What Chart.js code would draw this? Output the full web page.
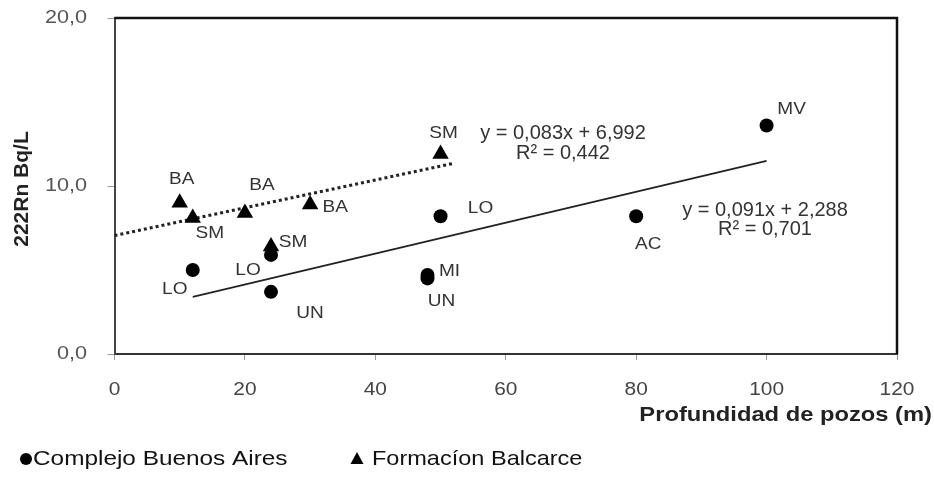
<!DOCTYPE html>
<html>
<head>
<meta charset="utf-8">
<script src="https://cdn.jsdelivr.net/npm/chart.js@4"></script>
<style>
  html, body { margin: 0; padding: 0; background: #fff; }
  #wrap { width: 934px; height: 479px; }
</style>
</head>
<body>
<div id="wrap"><canvas id="graf" width="934" height="479"></canvas></div>
<script>
// Complejo Buenos Aires (ronds)
const xBsAs = [12, 24, 24, 48, 48, 50, 80, 100];
const yBsAs = [5.0, 5.9, 3.7, 4.7, 4.5, 8.2, 8.2, 13.6];
const nomBsAs = ['LO', 'LO', 'UN', 'MI', 'UN', 'LO', 'AC', 'MV'];

// Formacíon Balcarce (triangles)
const xBalc = [10, 12, 20, 24, 30, 50];
const yBalc = [9.0, 8.1, 8.4, 6.4, 8.9, 11.9];
const nomBalc = ['BA', 'SM', 'BA', 'SM', 'BA', 'SM'];

// lignes de tendance (extrémités)
const xTendBsAs = [12, 100];
const yTendBsAs = [3.4, 11.5];
const xTendBalc = [0, 52];
const yTendBalc = [7.05, 11.35];

const eqBsAs = ['y = 0,091x + 2,288', 'R² = 0,701'];
const eqBalc = ['y = 0,083x + 6,992', 'R² = 0,442'];

const ticksX = [0, 20, 40, 60, 80, 100, 120];
const ticksY = [0, 10, 20];

const legende = ['Complejo Buenos Aires', 'Formacíon Balcarce'];
const titreX = 'Profundidad de pozos (m)';
const titreY = '222Rn Bq/L';

// décalages des étiquettes (px) par rapport au point
const decBsAs = [[-18, 19], [-23, 15], [39, 21], [22, -4], [14, 23], [40, -8], [12, 28], [25, -16]];
const decBalc = [[2, -23], [17, 15], [17, -28], [22, -4], [25, 3], [3, -21]];

function points(xs, ys) {
  return xs.map((x, i) => ({ x: x, y: ys[i] }));
}

function texte(ctx, s, x, y, font, color, align, sx) {
  ctx.save();
  ctx.font = font;
  ctx.fillStyle = color;
  ctx.textAlign = align;
  ctx.textBaseline = 'middle';
  ctx.translate(x, y);
  ctx.scale(sx, 1);
  ctx.fillText(s, 0, 0);
  ctx.restore();
}

const POLICE = '"Liberation Sans", Arial, sans-serif';

const dessin = {
  id: 'dessin',
  afterDraw(chart) {
    const ctx = chart.ctx;
    const a = chart.chartArea;
    const sx = chart.scales.x;
    const sy = chart.scales.y;

    // cadre haut et droite
    ctx.save();
    ctx.strokeStyle = '#111';
    ctx.lineWidth = 2.5;
    ctx.beginPath();
    ctx.moveTo(a.left, a.top);
    ctx.lineTo(a.right, a.top);
    ctx.lineTo(a.right, a.bottom);
    ctx.stroke();
    ctx.restore();

    // graduations
    sy.ticks.forEach(t => {
      const s = t.value.toFixed(1).replace('.', ',');
      texte(ctx, s, 87, sy.getPixelForValue(t.value), '18px ' + POLICE, '#555', 'right', 1.2);
    });
    sx.ticks.forEach(t => {
      texte(ctx, String(t.value), sx.getPixelForValue(t.value), 390, '19px ' + POLICE, '#444', 'center', 1.1);
    });

    // titres
    texte(ctx, titreX, 932, 415, 'bold 21px ' + POLICE, '#222', 'right', 1.13);
    ctx.save();
    ctx.translate(22, 189);
    ctx.rotate(-Math.PI / 2);
    texte(ctx, titreY, 0, 0, 'bold 21px ' + POLICE, '#222', 'center', 1);
    ctx.restore();

    // étiquettes des points
    const lab = (idx, noms, dec) => {
      const meta = chart.getDatasetMeta(idx);
      meta.data.forEach((p, i) => {
        texte(ctx, noms[i], p.x + dec[i][0], p.y + dec[i][1], '17px ' + POLICE, '#333', 'center', 1.12);
      });
    };
    lab(0, nomBsAs, decBsAs);
    lab(1, nomBalc, decBalc);

    // équations
    texte(ctx, eqBalc[0], 563, 133, '20px ' + POLICE, '#333', 'center', 1);
    texte(ctx, eqBalc[1], 563, 153, '20px ' + POLICE, '#333', 'center', 1);
    texte(ctx, eqBsAs[0], 765, 210, '20px ' + POLICE, '#333', 'center', 1);
    texte(ctx, eqBsAs[1], 765, 229, '20px ' + POLICE, '#333', 'center', 1);

    // légende
    ctx.save();
    ctx.fillStyle = '#000';
    ctx.beginPath();
    ctx.arc(26, 459, 6, 0, Math.PI * 2);
    ctx.fill();
    ctx.beginPath();
    ctx.moveTo(357, 452);
    ctx.lineTo(363.5, 464);
    ctx.lineTo(350.5, 464);
    ctx.closePath();
    ctx.fill();
    ctx.restore();
    texte(ctx, legende[0], 33, 459, '21px ' + POLICE, '#111', 'left', 1.16);
    texte(ctx, legende[1], 372, 459, '21px ' + POLICE, '#111', 'left', 1.12);
  }
};

new Chart(document.getElementById('graf'), {
  type: 'scatter',
  data: {
    datasets: [
      {
        label: legende[0],
        data: points(xBsAs, yBsAs),
        pointStyle: 'circle',
        pointRadius: 7,
        backgroundColor: '#000',
        borderColor: '#000',
        borderWidth: 0
      },
      {
        label: legende[1],
        data: points(xBalc, yBalc),
        pointStyle: 'triangle',
        pointRadius: 9.5,
        backgroundColor: '#000',
        borderColor: '#000',
        borderWidth: 0
      },
      {
        label: 'tendance BsAs',
        data: points(xTendBsAs, yTendBsAs),
        showLine: true,
        pointRadius: 0,
        borderColor: '#222',
        borderWidth: 1.8
      },
      {
        label: 'tendance Balcarce',
        data: points(xTendBalc, yTendBalc),
        showLine: true,
        pointRadius: 0,
        borderColor: '#222',
        borderWidth: 3,
        borderDash: [3, 3]
      }
    ]
  },
  options: {
    responsive: false,
    animation: false,
    devicePixelRatio: 1,
    layout: { padding: { top: 18, right: 37, left: 0, bottom: 0 } },
    plugins: {
      legend: { display: false },
      tooltip: { enabled: false }
    },
    scales: {
      x: {
        type: 'linear',
        min: 0,
        max: 120,
        afterBuildTicks: s => { s.ticks = ticksX.map(v => ({ value: v })); },
        ticks: { color: 'rgba(0,0,0,0)' },
        grid: { drawOnChartArea: false, drawTicks: true, tickLength: 6, color: '#999' },
        border: { display: true, color: '#333', width: 2 },
        afterFit: s => { s.height = 125; }
      },
      y: {
        type: 'linear',
        min: 0,
        max: 20,
        afterBuildTicks: s => { s.ticks = ticksY.map(v => ({ value: v })); },
        ticks: { color: 'rgba(0,0,0,0)' },
        grid: { drawOnChartArea: false, drawTicks: true, tickLength: 7, color: '#999' },
        border: { display: true, color: '#444', width: 2 },
        afterFit: s => { s.width = 114.5; }
      }
    }
  },
  plugins: [dessin]
});
</script>
</body>
</html>
